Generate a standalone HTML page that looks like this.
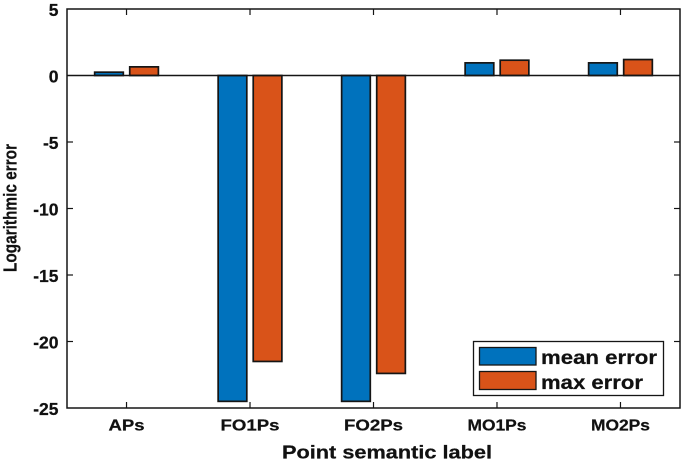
<!DOCTYPE html>
<html>
<head>
<meta charset="utf-8">
<style>
html,body{margin:0;padding:0;background:#fff;width:685px;height:460px;overflow:hidden}
svg{display:block}
text{font-family:"Liberation Sans",Arial,sans-serif;font-weight:bold;fill:#111;stroke:#111;stroke-width:0.25px}
</style>
</head>
<body>
<svg id="chart" xmlns="http://www.w3.org/2000/svg" width="685" height="460" viewBox="0 0 685 460"></svg>
<script>
const categories = ["APs", "FO1Ps", "FO2Ps", "MO1Ps", "MO2Ps"];
const meanError = [0.25, -24.5, -24.5, 0.95, 0.95];
const maxError = [0.65, -21.5, -22.4, 1.15, 1.2];
const yTicks = [5, 0, -5, -10, -15, -20, -25];
const yTickLabels = ["5", "0", "-5", "-10", "-15", "-20", "-25"];
const seriesNames = ["mean error", "max error"];

const plot = {left: 67, right: 680, top: 9, bottom: 408};
const BLUE = "#0072bd", ORANGE = "#d95319", INK = "#151515";
const xMin = 0.518, xMax = 5.482, yMin = -25, yMax = 5;
const xScale = v => plot.left + (v - xMin) / (xMax - xMin) * (plot.right - plot.left);
const yScale = v => plot.top + (yMax - v) / (yMax - yMin) * (plot.bottom - plot.top);
const svg = document.getElementById('chart');
const NS = "http://www.w3.org/2000/svg";
function make(tag, attrs, text) {
  const el = document.createElementNS(NS, tag);
  for (const k in attrs) el.setAttribute(k, attrs[k]);
  if (text !== undefined) el.textContent = text;
  svg.appendChild(el);
  return el;
}
function drawBar(value, catIndex, offset, color, name) {
  const width = 0.232;
  const cx = catIndex + 1 + offset;
  const y0 = yScale(0), y1 = yScale(value);
  const el = make('rect', {
    x: xScale(cx - width / 2), y: Math.min(y0, y1),
    width: xScale(cx + width / 2) - xScale(cx - width / 2),
    height: Math.abs(y1 - y0), fill: color, stroke: "#151515", 'stroke-width': 1.7
  });
  
  
}

const bg = make('rect', {x: plot.left, y: plot.top, width: plot.right - plot.left, height: plot.bottom - plot.top, fill: "#fff"});



categories.forEach((c, i) => {
  drawBar(meanError[i], i, -0.142, BLUE, 'bar-mean-' + c.toLowerCase());
  drawBar(maxError[i], i, 0.142, ORANGE, 'bar-max-' + c.toLowerCase());
});

const baseline = make('line', {x1: plot.left, x2: plot.right, y1: yScale(0), y2: yScale(0), stroke: INK, 'stroke-width': 1.5});



const frame = make('rect', {x: plot.left, y: plot.top, width: plot.right - plot.left, height: plot.bottom - plot.top, fill: "none", stroke: INK, 'stroke-width': 1.5});



yTicks.forEach((t, i) => {
  const y = yScale(t);
  if (t !== 0 && t !== yMax && t !== yMin) {
    const a = make('line', {x1: plot.left, x2: plot.left + 6, y1: y, y2: y, stroke: INK, 'stroke-width': 1.2});
    
    
    const b = make('line', {x1: plot.right, x2: plot.right - 6, y1: y, y2: y, stroke: INK, 'stroke-width': 1.2});
    
    
  }
  const label = make('text', {x: 58.5, y: y + 7, 'text-anchor': 'end', 'font-size': 17.5}, yTickLabels[i]);
  
  
});

categories.forEach((c, i) => {
  const x = xScale(i + 1);
  const a = make('line', {x1: x, x2: x, y1: plot.bottom, y2: plot.bottom - 6, stroke: INK, 'stroke-width': 1.2});
  
  
  const b = make('line', {x1: x, x2: x, y1: plot.top, y2: plot.top + 6, stroke: INK, 'stroke-width': 1.2});
  
  
  const label = make('text', {x: x, y: 430.5, 'text-anchor': 'middle', 'font-size': 15.5, textLength: c.length === 3 ? 36 : 59, lengthAdjust: 'spacingAndGlyphs'}, c);
  
  
});

const xTitle = make('text', {x: 387, y: 458.5, 'text-anchor': 'middle', 'font-size': 18, textLength: 210, lengthAdjust: 'spacingAndGlyphs'}, "Point semantic label");



const yTitle = make('text', {x: 0, y: 0, 'text-anchor': 'middle', 'font-size': 18.5, textLength: 128, lengthAdjust: 'spacingAndGlyphs', transform: 'translate(16.5,208) rotate(-90)'}, "Logarithmic error");



const legendBox = make('rect', {x: 473.5, y: 341.5, width: 190, height: 54, fill: "#fff", stroke: INK, 'stroke-width': 1.3});



const swatchA = make('rect', {x: 479.5, y: 347.5, width: 56.5, height: 17.5, fill: BLUE, stroke: "#151515", 'stroke-width': 1.3});


const swatchB = make('rect', {x: 479.5, y: 371.5, width: 56.5, height: 18, fill: ORANGE, stroke: "#151515", 'stroke-width': 1.3});



const legendA = make('text', {x: 541, y: 364, 'font-size': 19.5, textLength: 116, lengthAdjust: 'spacingAndGlyphs'}, seriesNames[0]);


const legendB = make('text', {x: 541, y: 389, 'font-size': 19.5, textLength: 102, lengthAdjust: 'spacingAndGlyphs'}, seriesNames[1]);


</script>
</body>
</html>
